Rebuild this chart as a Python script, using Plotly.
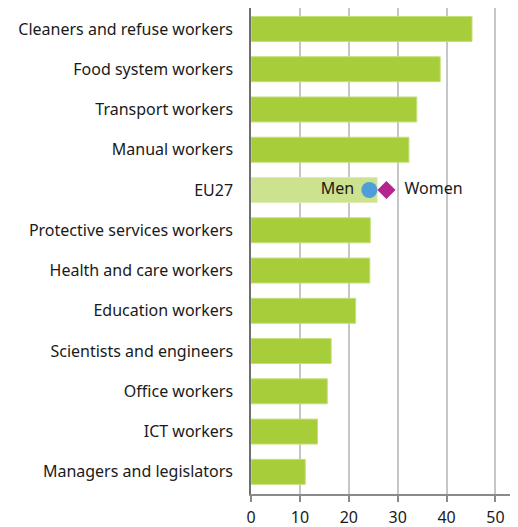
import plotly.graph_objects as go

categories = [
    "Cleaners and refuse workers",
    "Food system workers",
    "Transport workers",
    "Manual workers",
    "EU27",
    "Protective services workers",
    "Health and care workers",
    "Education workers",
    "Scientists and engineers",
    "Office workers",
    "ICT workers",
    "Managers and legislators",
]
values = [45.2, 38.7, 33.9, 32.3, 25.8, 24.4, 24.3, 21.4, 16.4, 15.6, 13.6, 11.1]
men_value = 24.2
women_value = 27.7
x_ticks = [0, 10, 20, 30, 40, 50]

bar_colors = ["#cde28f" if c == "EU27" else "#a7cd3a" for c in categories]
line_colors = ["#dcecb0" if c == "EU27" else "#c4df7a" for c in categories]

fig = go.Figure()
fig.add_trace(go.Bar(
    y=categories, x=values, orientation="h",
    marker=dict(color=bar_colors, line=dict(color=line_colors, width=1)),
    width=0.62, showlegend=False, hoverinfo="skip",
))
fig.add_trace(go.Scatter(
    x=[men_value], y=["EU27"], mode="markers+text", text=["Men "],
    textposition="middle left",
    marker=dict(symbol="circle", size=16, color="#4e9fd8"),
    textfont=dict(size=16, color="#1a1a1a"), showlegend=False,
))
fig.add_trace(go.Scatter(
    x=[women_value], y=["EU27"], mode="markers+text", text=["  Women"],
    textposition="middle right",
    marker=dict(symbol="diamond", size=14, color="#b5238c"),
    textfont=dict(size=16, color="#1a1a1a"), showlegend=False,
))

fig.update_layout(
    width=510, height=519,
    margin=dict(l=243, r=2, t=0, b=33),
    plot_bgcolor="white", paper_bgcolor="white",
    font=dict(family="Noto Sans", size=16, color="#1a1a1a"),
    xaxis=dict(
        range=[0, 54.2], tickvals=x_ticks, showgrid=True, automargin=False,
        gridcolor="#c6c6c6", gridwidth=1.5, zeroline=False,
        showline=True, linecolor="#8a8a8a", linewidth=1.5,
        ticks="outside", ticklen=6, tickcolor="#8a8a8a", tickwidth=1.5,
        tickfont=dict(size=16), ticklabelstandoff=2,
    ),
    yaxis=dict(
        categoryorder="array", categoryarray=categories, automargin=False,
        range=[11.55, -0.52], showgrid=False, zeroline=False,
        showline=True, linecolor="#6e6e6e", linewidth=1.5,
        ticks="", tickfont=dict(size=16), ticklabelstandoff=13,
    ),
)

fig.write_html("out.html")
